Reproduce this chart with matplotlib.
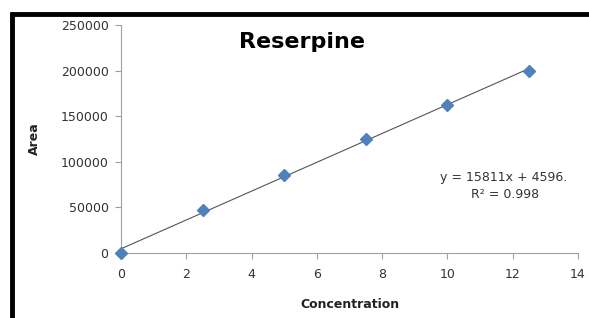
import numpy as np
import matplotlib.pyplot as plt
from matplotlib.lines import Line2D

conc = [0, 2.5, 5, 7.5, 10, 12.5]
area = [0, 47000, 85500, 124500, 162000, 199500]
slope = 15811
intercept = 4596

fig = plt.figure(figsize=(5.89, 3.18), dpi=100)
ax = fig.add_axes([121/589, 65/318, 457/589, 228/318])

xs = np.array([conc[0], conc[-1]])
ax.plot(xs, slope * xs + intercept, color='#555555', lw=0.8, zorder=2)
ax.plot(conc, area, linestyle='none', marker='D', ms=6.5, color='#4F81BD', zorder=3, clip_on=False)

ax.set_xlim(0, 14)
ax.set_ylim(0, 250000)
ax.set_xticks(range(0, 15, 2))
ax.set_yticks(range(0, 250001, 50000))

for s in ['top', 'right']:
    ax.spines[s].set_visible(False)
for s in ['left', 'bottom']:
    ax.spines[s].set_color('#A0A0A0')
    ax.spines[s].set_linewidth(0.8)
ax.tick_params(colors='#A0A0A0', labelcolor='#333333', labelsize=9, length=4, width=0.8)
ax.tick_params(axis='x', pad=7)
ax.tick_params(axis='y', pad=5)

ax.set_xlabel('Concentration', fontsize=9, fontweight='bold', color='#222222', labelpad=12)
ax.set_ylabel('Area', fontsize=9, fontweight='bold', color='#222222', labelpad=14)

fig.text(302/589, 1 - 42/318, 'Reserpine', fontsize=16, fontweight='bold', ha='center', va='center')
fig.text(504/589, 1 - 178/318, 'y = 15811x + 4596.', fontsize=9, ha='center', va='center', color='#333333')
fig.text(505/589, 1 - 194/318, 'R² = 0.998', fontsize=9, ha='center', va='center', color='#333333')

# black frame on top and left
fig.add_artist(Line2D([10/589, 1], [1 - 14/318, 1 - 14/318], color='black', lw=3.5,
                      solid_capstyle='butt', transform=fig.transFigure))
fig.add_artist(Line2D([12/589, 12/589], [1 - 12/318, 0], color='black', lw=3.5,
                      solid_capstyle='butt', transform=fig.transFigure))

fig.savefig('out.png', dpi=100)
